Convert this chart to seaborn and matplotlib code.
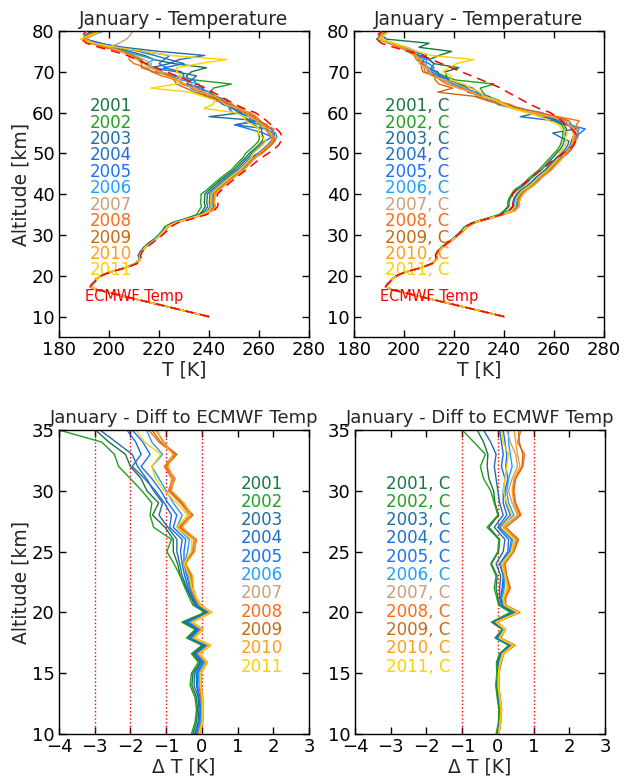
import matplotlib
matplotlib.use('Agg')
import matplotlib.pyplot as plt
import seaborn as sns

# --- DATA ---
YEARS = [2001, 2002, 2003, 2004, 2005, 2006, 2007, 2008, 2009, 2010, 2011]

# altitude grids [km]
ALT_LOW = [10, 11, 12, 13, 14, 15, 15.9, 16.6, 17.3, 17.9, 18.6, 19.2, 20.0, 20.6, 21.2,
           22, 23, 24, 25, 26, 27, 28, 29, 30, 31, 32, 33, 34, 35]
ALT_HIGH = list(range(36, 81))

# ECMWF temperature [K]
ECMWF_LOW = [240.0, 233.2, 226.4, 219.6, 212.8, 206.0, 199.9, 195.1, 192.5, 193.3, 194.4, 195.3,
             196.8, 199.2, 202.2, 207.0, 211.2, 213.0, 212.6, 213.4, 215.2, 217.2, 219.4, 221.4,
             223.2, 224.6, 227.6, 233.4, 239.0]
ECMWF_HIGH = [242.0, 243.5, 243.6, 243.3, 243.3, 245.0, 246.8, 248.7, 250.7, 252.8,
              255.0, 257.0, 259.0, 261.2, 263.6, 266.0, 267.8, 268.8, 269.2, 268.6,
              267.0, 264.8, 263.0, 261.0, 258.5, 254.0, 250.5, 247.5, 244.5, 241.5,
              238.7, 235.0, 231.0, 227.0, 223.0, 219.0, 215.0, 211.0, 207.3, 202.0,
              196.0, 191.0, 189.0, 189.5, 191.0]

# difference to ECMWF below 35 km [K]
DIFF_LOW = {
    2001: [-0.25, -0.15, -0.12, -0.15, -0.28, -0.25, -0.05, -0.25, 0.05, -0.40, -0.15, -0.52, 0.12, -0.20, -0.30,
           -0.45, -0.60, -0.68, -0.80, -0.80, -1.03, -1.38, -1.21, -1.54, -1.70, -2.00, -2.14, -2.60, -2.98],
    2002: [-0.29, -0.19, -0.15, -0.19, -0.33, -0.29, -0.10, -0.29, 0.00, -0.43, -0.19, -0.56, 0.08, -0.25, -0.35,
           -0.47, -0.61, -0.78, -0.98, -0.85, -1.35, -1.45, -1.40, -1.68, -2.00, -2.33, -2.45, -2.80, -4.00],
    2003: [-0.20, -0.10, -0.08, -0.10, -0.22, -0.20, -0.02, -0.22, 0.08, -0.37, -0.12, -0.48, 0.15, -0.18, -0.28,
           -0.42, -0.55, -0.62, -0.70, -0.70, -0.95, -1.20, -1.10, -1.35, -1.55, -1.80, -1.95, -2.40, -2.85],
    2004: [-0.18, -0.08, -0.05, -0.08, -0.15, -0.15, 0.02, -0.18, 0.12, -0.32, -0.08, -0.42, 0.18, -0.15, -0.25,
           -0.38, -0.48, -0.55, -0.60, -0.55, -0.90, -0.85, -1.05, -1.30, -1.60, -1.95, -1.70, -1.85, -2.10],
    2005: [-0.15, -0.05, -0.03, -0.05, -0.12, -0.12, 0.05, -0.15, 0.15, -0.30, -0.05, -0.38, 0.20, -0.12, -0.22,
           -0.34, -0.42, -0.50, -0.50, -0.45, -0.80, -0.70, -0.95, -1.15, -1.40, -1.70, -1.45, -1.65, -1.95],
    2006: [-0.12, -0.03, 0.00, -0.03, -0.08, -0.10, 0.08, -0.12, 0.18, -0.27, -0.03, -0.34, 0.22, -0.10, -0.20,
           -0.32, -0.38, -0.48, -0.40, -0.35, -0.70, -0.55, -0.80, -1.00, -1.20, -1.40, -1.10, -1.40, -1.55],
    2007: [-0.10, 0.00, 0.00, 0.00, -0.05, -0.06, 0.12, -0.10, 0.20, -0.25, 0.00, -0.30, 0.25, -0.06, -0.18,
           -0.30, -0.32, -0.48, -0.28, -0.22, -0.62, -0.35, -0.60, -0.90, -0.85, -1.05, -0.80, -1.05, -1.30],
    2008: [-0.10, 0.00, 0.00, -0.02, -0.05, -0.05, 0.13, -0.10, 0.22, -0.24, 0.00, -0.29, 0.25, -0.05, -0.20,
           -0.29, -0.32, -0.50, -0.24, -0.19, -0.66, -0.29, -0.60, -0.94, -0.80, -1.05, -0.75, -1.20, -1.49],
    2009: [-0.08, 0.02, 0.02, 0.02, -0.03, -0.03, 0.15, -0.08, 0.24, -0.22, 0.02, -0.27, 0.27, -0.03, -0.17,
           -0.26, -0.28, -0.48, -0.22, -0.15, -0.60, -0.25, -0.55, -0.88, -0.75, -1.00, -0.70, -1.15, -1.40],
    2010: [-0.06, 0.03, 0.03, 0.03, -0.02, -0.02, 0.16, -0.06, 0.25, -0.20, 0.03, -0.26, 0.28, -0.02, -0.15,
           -0.24, -0.26, -0.45, -0.20, -0.18, -0.55, -0.30, -0.50, -0.85, -0.78, -0.95, -0.80, -1.10, -1.25],
    2011: [-0.08, 0.01, 0.01, 0.01, -0.04, -0.04, 0.14, -0.08, 0.22, -0.22, 0.01, -0.28, 0.26, -0.04, -0.16,
           -0.28, -0.35, -0.50, -0.30, -0.28, -0.70, -0.40, -0.70, -1.05, -1.30, -1.40, -1.15, -1.60, -1.85],
}
DIFF_LOW_C = {
    2001: [-0.02, 0.03, 0.05, 0.00, -0.04, -0.02, -0.02, 0.06, 0.32, -0.06, 0.14, -0.16, 0.38, 0.05, 0.00,
           -0.05, -0.02, -0.18, 0.02, 0.05, -0.25, 0.02, -0.08, -0.12, -0.25, -0.30, -0.28, -0.40, -0.58],
    2002: [-0.05, 0.02, 0.03, -0.02, -0.06, -0.03, -0.04, 0.05, 0.30, -0.08, 0.12, -0.18, 0.35, 0.02, -0.03,
           -0.10, -0.05, -0.20, 0.00, 0.03, -0.30, 0.00, -0.10, -0.20, -0.40, -0.49, -0.35, -0.67, -1.00],
    2003: [0.00, 0.05, 0.06, 0.02, -0.02, 0.00, 0.00, 0.08, 0.35, -0.04, 0.16, -0.12, 0.45, 0.10, 0.05,
           0.05, 0.08, -0.05, 0.15, 0.20, -0.10, 0.15, 0.05, 0.00, -0.05, -0.10, -0.05, -0.20, -0.40],
    2004: [0.00, 0.05, 0.07, 0.03, -0.01, 0.00, 0.02, 0.10, 0.38, -0.02, 0.17, -0.10, 0.50, 0.12, 0.08,
           0.12, 0.15, 0.05, 0.28, 0.30, 0.00, 0.25, 0.15, 0.15, 0.20, 0.10, 0.15, 0.10, 0.05],
    2005: [0.01, 0.06, 0.08, 0.04, 0.00, 0.01, 0.04, 0.11, 0.40, 0.00, 0.18, -0.08, 0.52, 0.15, 0.10,
           0.15, 0.18, 0.08, 0.32, 0.38, 0.05, 0.35, 0.22, 0.20, 0.28, 0.22, 0.25, 0.20, 0.15],
    2006: [0.01, 0.06, 0.08, 0.04, 0.00, 0.01, 0.05, 0.12, 0.42, 0.02, 0.18, -0.06, 0.55, 0.17, 0.12,
           0.18, 0.20, 0.10, 0.35, 0.42, 0.08, 0.45, 0.30, 0.25, 0.30, 0.40, 0.35, 0.30, 0.30],
    2007: [0.02, 0.07, 0.09, 0.05, 0.01, 0.02, 0.07, 0.13, 0.44, 0.05, 0.19, -0.04, 0.57, 0.19, 0.14,
           0.28, 0.22, 0.15, 0.40, 0.50, 0.15, 0.55, 0.40, 0.30, 0.40, 0.55, 0.50, 0.35, 0.25],
    2008: [0.02, 0.08, 0.10, 0.06, 0.02, 0.02, 0.10, 0.15, 0.48, 0.08, 0.20, -0.02, 0.62, 0.22, 0.22,
           0.35, 0.25, 0.20, 0.45, 0.58, 0.22, 0.65, 0.50, 0.45, 0.50, 0.70, 0.75, 0.55, 0.65],
    2009: [0.03, 0.08, 0.10, 0.06, 0.02, 0.03, 0.09, 0.16, 0.47, 0.07, 0.21, -0.03, 0.60, 0.21, 0.20,
           0.33, 0.24, 0.18, 0.44, 0.55, 0.20, 0.62, 0.48, 0.42, 0.48, 0.68, 0.70, 0.60, 0.58],
    2010: [0.03, 0.08, 0.11, 0.07, 0.03, 0.03, 0.08, 0.17, 0.46, 0.06, 0.22, -0.04, 0.59, 0.20, 0.18,
           0.30, 0.22, 0.16, 0.42, 0.52, 0.18, 0.58, 0.45, 0.40, 0.45, 0.62, 0.55, 0.50, 0.45],
    2011: [0.02, 0.07, 0.09, 0.05, 0.01, 0.02, 0.06, 0.14, 0.43, 0.04, 0.19, -0.05, 0.56, 0.18, 0.15,
           0.25, 0.20, 0.10, 0.38, 0.45, 0.10, 0.40, 0.25, 0.15, 0.20, 0.25, 0.30, 0.15, 0.10],
}

# measured temperature 36-80 km [K]
TEMP_HIGH = {
    2001: [237.5, 238.5, 238.1, 238.3, 238.3, 240.0, 241.8, 243.7, 245.7, 247.8, 250.0, 251.5, 253.0, 254.7, 256.1,
           258.0, 259.8, 261.3, 261.7, 261.1, 261.0, 260.3, 259.5, 256.0, 252.5, 252.0, 247.5, 246.5, 241.5, 237.5,
           233.7, 233.0, 232.0, 231.0, 233.0, 239.0, 226.0, 218.0, 214.3, 208.0, 202.0, 197.0, 190.5, 191.5, 194.0],
    2002: [236.0, 237.0, 236.6, 236.8, 236.8, 239.0, 240.8, 242.7, 244.7, 246.8, 249.0, 250.5, 252.0, 253.7, 254.6,
           256.5, 258.3, 259.8, 260.2, 259.6, 260.0, 258.3, 256.5, 254.0, 251.5, 250.0, 248.5, 242.5, 242.5, 240.5,
           241.7, 249.0, 234.0, 227.0, 220.0, 217.0, 214.0, 213.0, 210.3, 205.0, 199.0, 193.0, 189.5, 191.5, 193.0],
    2003: [238.5, 239.5, 239.1, 239.3, 239.3, 241.0, 242.8, 244.7, 246.7, 248.8, 251.0, 252.5, 254.0, 255.7, 257.1,
           259.0, 260.8, 262.3, 265.2, 265.6, 263.0, 250.3, 260.5, 240.0, 253.5, 249.0, 247.5, 247.5, 242.5, 237.5,
           237.7, 231.0, 233.0, 235.0, 227.0, 217.0, 224.0, 228.0, 238.3, 220.0, 206.0, 196.0, 189.5, 190.5, 193.0],
    2004: [239.5, 240.5, 240.1, 240.3, 240.3, 242.0, 243.8, 245.7, 247.7, 249.8, 252.0, 253.5, 255.0, 256.7, 259.6,
           261.5, 263.3, 264.8, 266.2, 266.1, 265.0, 260.3, 255.5, 257.0, 255.5, 251.0, 245.5, 243.5, 240.5, 240.5,
           235.7, 230.0, 228.0, 230.0, 229.0, 222.0, 230.0, 224.0, 218.3, 212.0, 203.0, 195.0, 189.5, 192.5, 194.0],
    2005: [240.0, 241.0, 240.6, 240.8, 240.8, 242.5, 244.3, 246.2, 248.2, 250.3, 252.5, 254.0, 255.5, 257.2, 260.1,
           262.0, 263.8, 265.3, 265.2, 261.6, 256.0, 250.3, 259.5, 258.0, 249.5, 248.0, 248.5, 244.5, 238.5, 236.5,
           232.7, 235.0, 234.0, 225.0, 219.0, 223.0, 220.0, 222.0, 224.3, 214.0, 204.0, 196.0, 190.5, 193.5, 196.0],
    2006: [240.5, 241.5, 241.1, 241.3, 241.3, 243.0, 244.8, 246.7, 248.7, 250.8, 253.0, 254.5, 256.0, 257.7, 261.1,
           263.0, 264.8, 266.3, 267.2, 266.6, 263.0, 262.3, 258.5, 258.0, 254.5, 250.0, 249.5, 244.5, 241.5, 235.5,
           236.7, 236.0, 229.0, 224.0, 221.0, 218.0, 215.0, 218.0, 212.3, 207.0, 200.0, 194.0, 190.5, 193.5, 198.0],
    2007: [241.0, 242.0, 241.6, 241.8, 241.8, 243.5, 245.3, 247.2, 249.2, 251.3, 253.5, 255.0, 256.5, 258.2, 260.6,
           262.5, 264.3, 265.8, 266.2, 264.6, 262.0, 261.3, 260.5, 257.0, 253.5, 252.0, 246.5, 246.5, 240.5, 238.5,
           234.7, 233.0, 232.0, 227.0, 221.0, 216.0, 217.0, 214.0, 210.3, 204.0, 200.0, 204.0, 207.0, 208.5, 209.5],
    2008: [241.5, 242.5, 242.1, 242.3, 242.3, 244.0, 245.8, 247.7, 249.7, 251.8, 254.0, 255.5, 257.0, 258.7, 261.1,
           263.0, 264.8, 266.3, 266.2, 265.6, 266.0, 262.3, 260.5, 259.0, 256.5, 251.0, 249.5, 242.5, 241.5, 236.5,
           233.7, 229.0, 227.0, 221.0, 217.0, 215.0, 210.0, 208.0, 208.3, 205.0, 198.0, 193.0, 189.5, 191.5, 195.0],
    2009: [241.0, 242.0, 241.6, 241.8, 241.8, 243.5, 245.3, 247.2, 249.2, 251.3, 253.5, 255.0, 256.5, 258.2, 260.6,
           262.5, 264.3, 265.8, 265.2, 263.6, 263.0, 263.3, 259.5, 258.0, 254.5, 253.0, 247.5, 245.5, 239.5, 234.5,
           230.7, 227.0, 226.0, 225.0, 218.0, 213.0, 213.0, 212.0, 209.3, 206.0, 199.0, 193.0, 190.0, 192.5, 196.0],
    2010: [241.5, 242.5, 242.1, 242.3, 242.3, 244.0, 245.8, 247.7, 249.7, 251.8, 254.0, 255.5, 257.0, 258.7, 260.1,
           262.0, 263.8, 265.3, 265.2, 264.6, 264.0, 260.3, 259.5, 256.0, 255.5, 252.0, 246.5, 244.5, 242.5, 236.5,
           233.7, 230.0, 228.0, 223.0, 220.0, 217.0, 214.0, 211.0, 208.3, 205.0, 200.0, 194.0, 190.5, 193.5, 196.0],
    2011: [240.0, 241.0, 240.6, 240.8, 240.8, 242.5, 244.3, 246.2, 248.2, 250.3, 252.5, 254.0, 255.5, 257.2, 257.6,
           259.5, 261.3, 262.8, 261.2, 259.6, 260.0, 257.3, 254.5, 254.0, 250.5, 238.0, 241.5, 242.5, 237.5, 232.5,
           216.7, 227.0, 228.0, 229.0, 227.0, 227.0, 236.0, 247.0, 224.3, 214.0, 203.0, 194.0, 188.5, 192.5, 197.0],
}
TEMP_HIGH_C = {
    2001: [240.5, 242.0, 242.0, 242.5, 243.5, 245.0, 247.5, 249.5, 251.0, 253.0, 255.0, 256.5, 258.0, 259.5, 261.0,
           262.5, 263.5, 264.0, 264.5, 264.5, 265.0, 264.0, 261.0, 258.5, 253.0, 247.0, 240.5, 237.0, 231.0, 229.5,
           227.5, 222.0, 217.5, 217.0, 216.5, 222.0, 212.0, 210.0, 214.0, 219.0, 206.0, 210.0, 193.0, 191.0, 192.0],
    2002: [240.0, 241.5, 241.5, 242.0, 243.0, 244.0, 246.5, 248.5, 250.0, 252.0, 254.0, 255.5, 257.0, 258.5, 260.0,
           261.5, 262.5, 263.0, 263.5, 263.5, 264.0, 263.0, 260.0, 257.5, 252.0, 246.0, 239.5, 238.0, 233.0, 231.5,
           230.5, 236.0, 220.5, 216.0, 212.5, 210.0, 207.0, 207.0, 206.0, 202.0, 200.0, 196.0, 190.0, 190.0, 191.0],
    2003: [242.0, 243.5, 243.5, 244.0, 245.0, 246.5, 249.0, 251.0, 252.5, 254.5, 256.5, 258.0, 259.5, 261.0, 263.0,
           264.5, 265.5, 266.0, 262.5, 259.5, 269.0, 265.0, 264.0, 254.5, 252.0, 244.0, 237.5, 236.0, 234.0, 227.5,
           222.5, 221.0, 218.5, 213.0, 209.5, 211.0, 212.0, 210.0, 206.0, 205.0, 201.0, 195.0, 189.0, 191.0, 193.0],
    2004: [242.5, 244.0, 244.0, 244.5, 245.5, 247.0, 249.5, 251.5, 253.0, 255.0, 257.0, 258.5, 260.0, 261.5, 264.0,
           265.5, 266.5, 267.0, 267.5, 268.5, 267.0, 266.0, 260.0, 246.5, 254.0, 245.0, 241.5, 234.0, 229.0, 228.5,
           224.5, 222.0, 215.5, 214.0, 213.5, 209.0, 207.0, 208.0, 209.0, 204.0, 200.0, 194.0, 190.0, 190.0, 192.0],
    2005: [243.0, 244.5, 244.5, 245.0, 246.0, 247.5, 250.0, 252.0, 253.5, 255.5, 257.5, 259.0, 260.5, 262.0, 264.5,
           266.0, 267.0, 267.5, 268.5, 270.5, 272.5, 266.0, 262.0, 259.5, 255.0, 246.0, 239.5, 237.0, 232.0, 225.5,
           225.5, 219.0, 218.5, 215.0, 210.5, 212.0, 210.0, 206.0, 205.0, 203.0, 199.0, 195.0, 190.0, 191.0, 193.0],
    2006: [243.5, 245.0, 245.0, 245.5, 246.5, 248.0, 250.5, 252.5, 254.0, 256.0, 258.0, 259.5, 261.0, 262.5, 265.0,
           266.5, 267.5, 268.0, 269.5, 269.5, 270.0, 267.0, 263.0, 259.5, 251.0, 245.0, 238.5, 235.0, 233.0, 228.5,
           223.5, 220.0, 214.5, 213.0, 211.5, 209.0, 209.0, 209.0, 204.0, 202.0, 200.0, 195.0, 191.0, 191.0, 194.0],
    2007: [244.0, 245.5, 245.5, 246.0, 247.0, 248.5, 251.0, 253.0, 254.5, 256.5, 258.5, 260.0, 261.5, 263.0, 264.5,
           266.0, 267.0, 267.5, 268.5, 267.5, 268.0, 266.0, 265.0, 258.5, 250.0, 244.0, 240.5, 233.0, 231.0, 226.5,
           224.5, 221.0, 216.5, 212.0, 210.5, 210.0, 208.0, 206.0, 205.0, 201.0, 199.0, 195.0, 191.0, 192.0, 194.0],
    2008: [244.5, 246.0, 246.0, 246.5, 247.5, 249.0, 251.5, 253.5, 255.0, 257.0, 259.0, 260.5, 262.0, 263.5, 265.0,
           266.5, 267.5, 268.0, 268.5, 269.5, 269.0, 269.0, 270.0, 261.5, 254.0, 246.0, 242.5, 236.0, 231.0, 226.5,
           222.5, 217.0, 214.5, 212.0, 208.5, 208.0, 208.0, 206.0, 205.0, 202.0, 198.0, 194.0, 190.0, 190.0, 192.0],
    2009: [244.0, 245.5, 245.5, 246.0, 247.0, 248.5, 251.0, 253.0, 254.5, 256.5, 258.5, 260.0, 261.5, 263.0, 265.5,
           267.0, 268.0, 268.5, 269.5, 268.5, 267.0, 267.0, 266.0, 260.5, 253.0, 245.0, 238.5, 233.0, 228.0, 213.5,
           219.5, 214.0, 212.5, 212.0, 207.5, 207.0, 207.0, 205.0, 204.0, 202.0, 199.0, 195.0, 190.0, 190.0, 193.0],
    2010: [244.5, 246.0, 246.0, 246.5, 247.5, 249.0, 251.5, 253.5, 255.0, 257.0, 259.0, 260.5, 262.0, 263.5, 264.5,
           266.0, 267.0, 267.5, 267.5, 268.5, 268.0, 266.0, 263.0, 259.5, 252.0, 244.0, 240.5, 237.0, 230.0, 227.5,
           221.5, 218.0, 215.5, 211.0, 209.5, 209.0, 206.0, 207.0, 204.0, 203.0, 199.0, 195.0, 190.0, 191.0, 192.0],
    2011: [243.0, 244.5, 244.5, 245.0, 246.0, 247.5, 250.0, 252.0, 253.5, 255.5, 257.5, 259.0, 260.5, 262.0, 262.0,
           263.5, 264.5, 265.0, 264.5, 265.5, 263.0, 262.0, 258.0, 254.5, 249.0, 243.0, 239.5, 237.0, 232.0, 230.5,
           226.5, 224.0, 218.5, 219.0, 215.5, 218.0, 221.0, 228.0, 211.0, 205.0, 201.0, 196.0, 190.0, 192.0, 194.0],
}

COLORS = {2001: '#17783f', 2002: '#20a020', 2003: '#1f6ea2', 2004: '#1f6dd2', 2005: '#1a70ff',
          2006: '#1ea0ff', 2007: '#c9a079', 2008: '#ff6a1a', 2009: '#c86a14', 2010: '#ff9e1a',
          2011: '#ffd000'}

# --- STYLE ---
sns.set_style('ticks')
plt.rcParams['font.family'] = ['DejaVu Sans']
plt.rcParams.update({
    'xtick.direction': 'in', 'ytick.direction': 'in',
    'xtick.top': True, 'ytick.right': True,
    'xtick.major.size': 5, 'ytick.major.size': 5,
    'xtick.major.width': 1, 'ytick.major.width': 1,
    'xtick.labelsize': 13, 'ytick.labelsize': 13,
    'xtick.major.pad': 3, 'ytick.major.pad': 3,
    'axes.linewidth': 1.0, 'axes.edgecolor': 'black',
    'xtick.color': 'black', 'ytick.color': 'black',
})

W, H = 624, 778
fig = plt.figure(figsize=(W / 100, H / 100), dpi=100)


def rect(l, t, r, b):
    return [l / W, 1 - b / H, (r - l) / W, (b - t) / H]


ax_tl = fig.add_axes(rect(59, 31, 309, 337))
ax_tr = fig.add_axes(rect(354, 31, 604, 337))
ax_bl = fig.add_axes(rect(59, 430, 309, 734))
ax_br = fig.add_axes(rect(355, 430, 605, 734))

alt_all = ALT_LOW + ALT_HIGH
ecmwf_all = ECMWF_LOW + ECMWF_HIGH


def temp_panel(ax, diff_low, temp_high, suffix):
    for yr in YEARS:
        t_low = [e + d for e, d in zip(ECMWF_LOW, diff_low[yr])]
        sns.lineplot(x=t_low + temp_high[yr], y=alt_all, ax=ax, sort=False, estimator=None,
                     color=COLORS[yr], lw=1.0)
    sns.lineplot(x=ecmwf_all, y=alt_all, ax=ax, sort=False, estimator=None,
                 color='red', lw=1.1, linestyle=(0, (6, 4)), zorder=5)
    for i, yr in enumerate(YEARS):
        ax.text(192.4, 61.6 - 4.03 * i, f'{yr}{suffix}', color=COLORS[yr], fontsize=12,
                ha='left', va='center')
    ax.text(190.4, 15.0, 'ECMWF Temp', color='red', fontsize=10.5, ha='left', va='center')
    ax.set_xlim(180, 280)
    ax.set_ylim(5, 80)
    ax.set_xticks(range(180, 281, 20))
    ax.set_yticks(range(10, 81, 10))
    ax.set_xlabel('T [K]', fontsize=13.5, labelpad=1)
    ax.set_title('January - Temperature', fontsize=13.5, pad=4)


def diff_panel(ax, diff_low, suffix, label_x, vlines):
    for v in vlines:
        ax.axvline(v, color='red', ls=':', lw=1.0, zorder=1)
    for yr in YEARS:
        sns.lineplot(x=diff_low[yr], y=ALT_LOW, ax=ax, sort=False, estimator=None,
                     color=COLORS[yr], lw=1.0)
    for i, yr in enumerate(YEARS):
        ax.text(label_x, 30.6 - 1.507 * i, f'{yr}{suffix}', color=COLORS[yr], fontsize=12,
                ha='left', va='center')
    ax.set_xlim(-4, 3)
    ax.set_ylim(10, 35)
    ax.set_xticks(range(-4, 4))
    ax.set_yticks(range(10, 36, 5))
    ax.set_xlabel('\u0394 T [K]', fontsize=13.5, labelpad=1)
    ax.set_title('January - Diff to ECMWF Temp', fontsize=13, pad=5)


temp_panel(ax_tl, DIFF_LOW, TEMP_HIGH, '')
temp_panel(ax_tr, DIFF_LOW_C, TEMP_HIGH_C, ', C')
diff_panel(ax_bl, DIFF_LOW, '', 1.08, [-3, -2, -1, 0])
diff_panel(ax_br, DIFF_LOW_C, ', C', -3.14, [-1, 0, 1])

ax_tl.set_ylabel('Altitude [km]', fontsize=13.5, labelpad=1)
ax_bl.set_ylabel('Altitude [km]', fontsize=13.5, labelpad=1)
ax_tr.set_ylabel('')
ax_br.set_ylabel('')

fig.savefig('out.png', dpi=100)
